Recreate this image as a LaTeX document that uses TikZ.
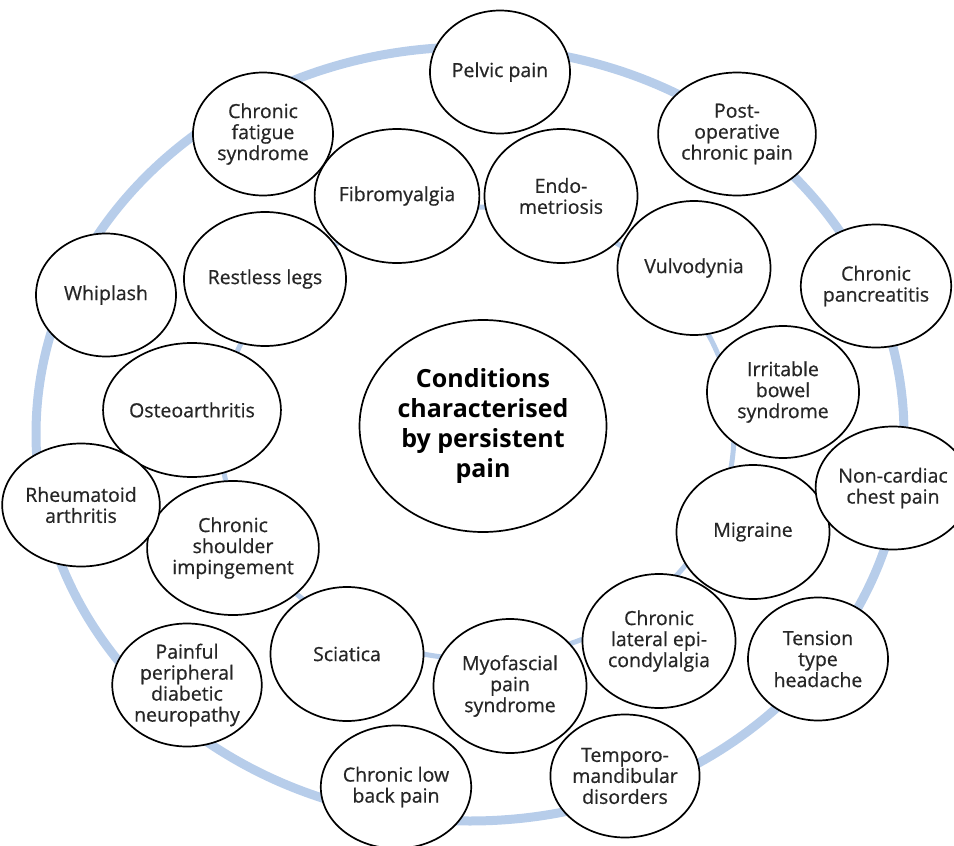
\documentclass[tikz,border=0pt]{standalone}
\usepackage{fontspec}
\setmainfont{Open Sans}
\newfontfamily\labelfont[FakeBold=0.6]{Open Sans}
\usetikzlibrary{shapes.geometric}
\definecolor{ringblue}{RGB}{183,205,234}
\definecolor{ink}{RGB}{38,38,38}
\begin{document}
\begin{tikzpicture}[x=1pt,y=-1pt,
  bubble/.style={ellipse, draw=black, line width=1.7pt, fill=white, inner sep=0pt,
    align=center, text=ink, font=\labelfont\fontsize{19.5}{21}\selectfont},
  smallbub/.style={bubble, minimum width=140pt, minimum height=123pt},
  largebub/.style={bubble, minimum width=153pt, minimum height=134pt},
  corebub/.style={bubble, minimum width=247pt, minimum height=212pt, text=black,
    font=\fontsize{25}{30}\selectfont\bfseries},
  ring/.style={draw=ringblue}]
\useasboundingbox (0,0) rectangle (954,846);

% the two rings the bubbles sit on
\draw[ring, line width=9pt] (470,434) ellipse [x radius=434, y radius=387];
\draw[ring, line width=5pt] (477,433) ellipse [x radius=257, y radius=226];

% central theme
\node[corebub] (core) at (483,426) {Conditions\\characterised\\by persistent\\pain};

% inner ring
\node[largebub] (fibro)    at (397,196) {Fibromyalgia};
\node[largebub] (endo)     at (561,196) {Endo-\\metriosis};
\node[largebub] (vulvo)    at (694,268) {Vulvodynia};
\node[largebub, minimum width=152pt, minimum height=132pt] (ibs) at (783,392) {Irritable\\bowel\\syndrome};
\node[largebub] (migr)     at (753,532) {Migraine};
\node[largebub] (cle)      at (659,641) {Chronic\\lateral epi-\\condylalgia};
\node[largebub] (myo)      at (510,686) {Myofascial\\pain\\syndrome};
\node[largebub] (sciat)    at (347,654) {Sciatica};
\node[largebub] (csi)      at (233,548) {Chronic\\shoulder\\impingement};
\node[largebub] (osteo)    at (192,410) {Osteoarthritis};
\node[largebub] (restless) at (265,279) {Restless legs};

% outer ring
\node[smallbub] (pelvic) at (500,72)  {Pelvic pain};
\node[smallbub] (postop) at (737,134) {Post-\\operative\\chronic pain};
\node[smallbub] (pancr)  at (876,286) {Chronic\\pancreatitis};
\node[smallbub] (ncc)    at (893,488) {Non-cardiac\\chest pain};
\node[smallbub] (tth)    at (818,659) {Tension\\type\\headache};
\node[smallbub] (tmd)    at (625,776) {Temporo-\\mandibular\\disorders};
\node[smallbub] (clbp)   at (396,787) {Chronic low\\back pain};
\node[smallbub] (ppdn)   at (187,685) {Painful\\peripheral\\diabetic\\neuropathy};
\node[smallbub] (ra)     at (81,505)  {Rheumatoid\\arthritis};
\node[smallbub] (whip)   at (106,295) {Whiplash};
\node[smallbub] (cfs)    at (263,134) {Chronic\\fatigue\\syndrome};
\end{tikzpicture}
\end{document}
